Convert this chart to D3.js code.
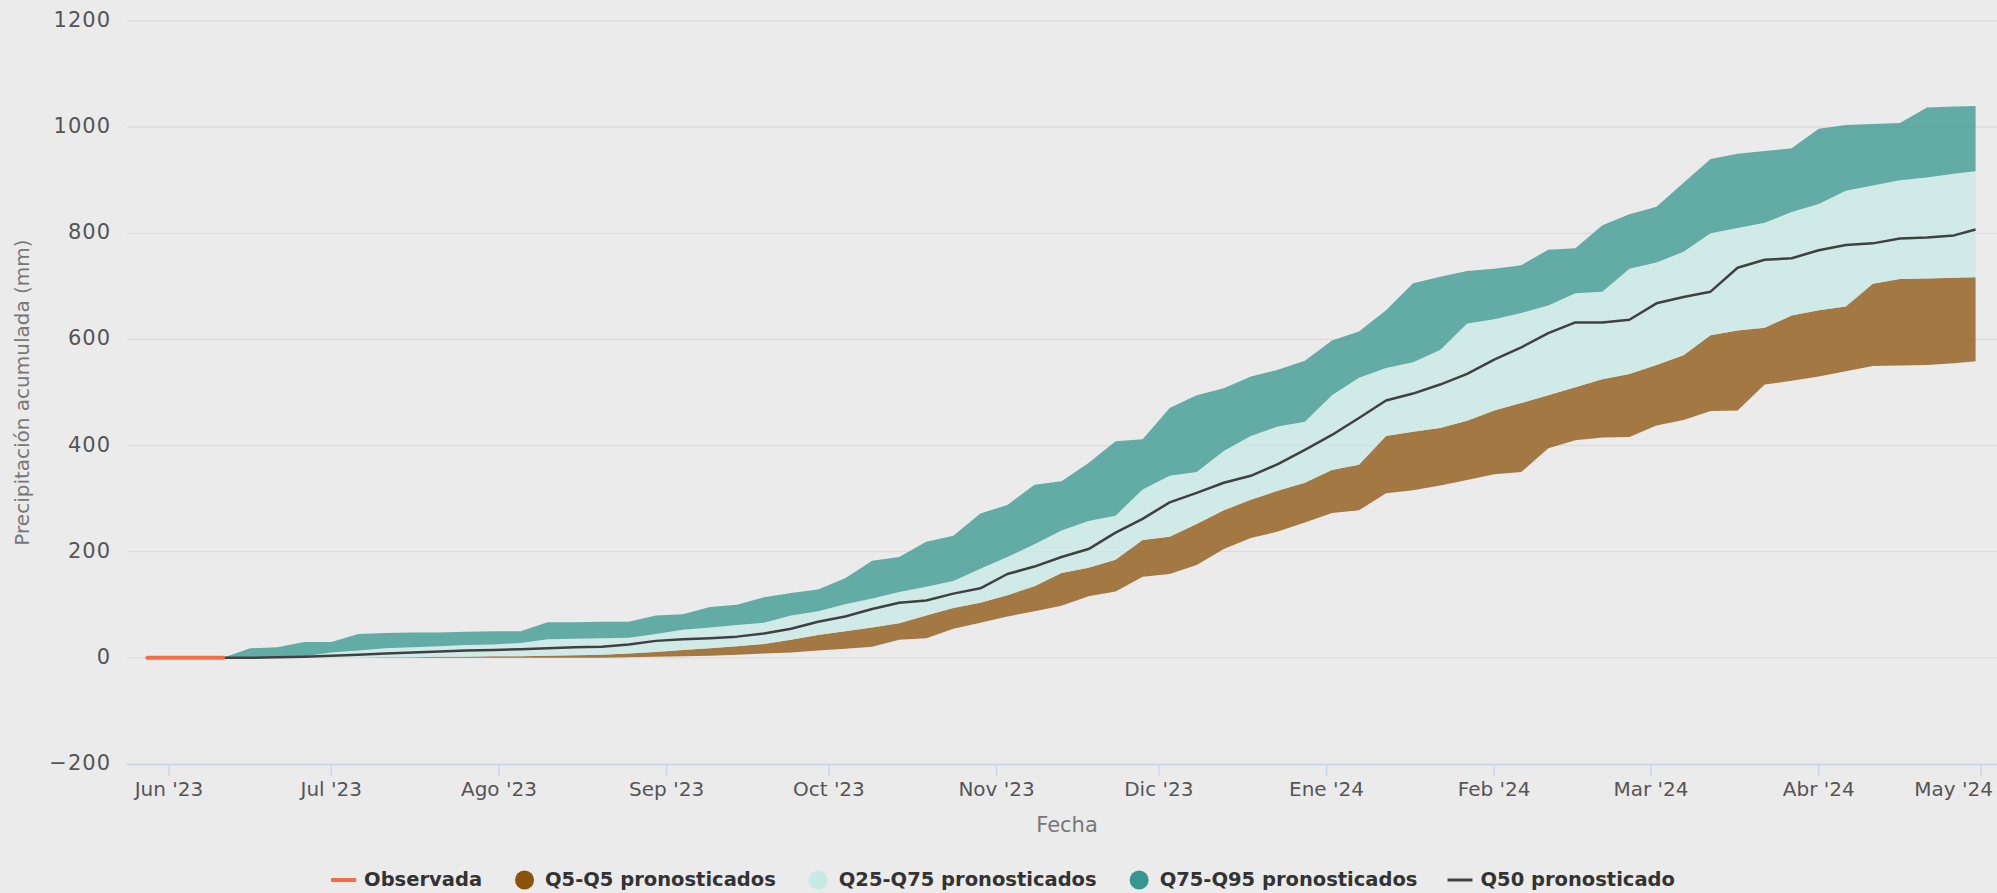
<!DOCTYPE html>
<html>
<head>
<meta charset="utf-8">
<script src="https://cdn.jsdelivr.net/npm/d3@7"></script>
<style>
  html, body { margin: 0; padding: 0; background: #ebebeb; }
  svg { display: block; font-family: "DejaVu Sans", sans-serif; }
</style>
</head>
<body>
<svg id="chart" width="1997" height="893"></svg>
<script>
// ---------------- DATA ----------------
const monthLabels = ["Ene","Feb","Mar","Abr","May","Jun","Jul","Ago","Sep","Oct","Nov","Dic"];
const yTicks = [-200, 0, 200, 400, 600, 800, 1000, 1200];

const obsDates = ["2023-05-28", "2023-06-11"];
const obsValues = [0, 0];

const dates = [
  "2023-06-11","2023-06-16","2023-06-21","2023-06-26",
  "2023-07-01","2023-07-06","2023-07-11","2023-07-16","2023-07-21","2023-07-26","2023-07-31",
  "2023-08-05","2023-08-10","2023-08-15","2023-08-20","2023-08-25","2023-08-30",
  "2023-09-04","2023-09-09","2023-09-14","2023-09-19","2023-09-24","2023-09-29",
  "2023-10-04","2023-10-09","2023-10-14","2023-10-19","2023-10-24","2023-10-29",
  "2023-11-03","2023-11-08","2023-11-13","2023-11-18","2023-11-23","2023-11-28",
  "2023-12-03","2023-12-08","2023-12-13","2023-12-18","2023-12-23","2023-12-28",
  "2024-01-02","2024-01-07","2024-01-12","2024-01-17","2024-01-22","2024-01-27",
  "2024-02-01","2024-02-06","2024-02-11","2024-02-16","2024-02-21","2024-02-26",
  "2024-03-02","2024-03-07","2024-03-12","2024-03-17","2024-03-22","2024-03-27",
  "2024-04-01","2024-04-06","2024-04-11","2024-04-16","2024-04-21","2024-04-26","2024-04-30"
];
const q5 = [0,0,0,0,0,0,0,0,0,0,0,0,0,0,0,1,2,3,4,6,8,10,14,17,21,34,37,55,66,78,88,98,116,125,153,158,175,205,226,238,255,273,278,310,316,325,335,346,350,395,410,415,416,438,448,465,466,515,522,530,540,550,551,552,555,559];
const q25 = [0,0,0,0,0,0,1,1,2,2,3,3,4,5,6,8,11,15,18,22,26,34,43,50,57,65,80,94,104,118,135,160,170,185,222,228,252,278,298,315,330,354,364,418,426,433,447,466,480,495,510,525,535,552,570,608,617,622,645,655,662,705,714,715,716,717];
const q50 = [0,0,1,2,4,6,8,10,12,14,15,16,18,20,21,25,32,35,37,40,46,55,68,78,92,104,108,121,131,158,172,190,205,236,262,293,311,330,343,365,392,420,452,485,498,515,535,562,585,612,632,632,637,668,680,690,735,750,753,768,778,781,790,792,796,807];
const q75 = [0,0,1,3,10,14,18,20,22,24,25,28,35,36,37,38,45,53,57,62,66,80,88,101,112,124,134,145,168,190,214,240,258,268,317,343,350,390,418,436,445,495,528,546,557,580,630,638,650,664,687,690,733,745,765,800,810,820,840,855,880,890,900,905,912,917];
const q95 = [0,18,20,30,30,45,47,48,48,49,50,50,67,67,68,68,80,82,96,100,114,122,129,150,183,190,219,230,272,288,326,333,367,408,412,471,495,508,530,543,560,598,615,655,706,718,729,733,740,769,772,815,836,850,895,940,950,955,960,997,1004,1006,1008,1037,1039,1040];

const legendItems = [
  {name: "Observada", type: "line", color: "#f46d43"},
  {name: "Q5-Q5 pronosticados", type: "circle", color: "#8c510a"},
  {name: "Q25-Q75 pronosticados", type: "circle", color: "#c7eae5"},
  {name: "Q75-Q95 pronosticados", type: "circle", color: "#35978f"},
  {name: "Q50 pronosticado", type: "line", color: "#404040"}
];

// ---------------- LAYOUT ----------------
const parse = d3.utcParse("%Y-%m-%d");
const svg = d3.select("#chart");
const W = 1997;
const plotLeft = 127, plotRight = 1997, plotTop = 21, plotBottom = 764;

const x = d3.scaleUtc()
  .domain([parse("2023-06-01"), parse("2024-05-01")])
  .range([169, 1981]);
const y = d3.scaleLinear().domain([-200, 1200]).range([plotBottom, plotTop]);

const rows = dates.map((d, i) => ({date: parse(d), q5: q5[i], q25: q25[i], q50: q50[i], q75: q75[i], q95: q95[i]}));
const obs = obsDates.map((d, i) => ({date: parse(d), v: obsValues[i]}));

// gridlines
svg.append("g").selectAll("line").data(yTicks.filter(t => t !== -200)).join("line")
  .attr("x1", plotLeft).attr("x2", plotRight)
  .attr("y1", d => y(d)).attr("y2", d => y(d))
  .attr("stroke", "#d9d9d9").attr("stroke-width", 1);

// y tick labels
svg.append("g").selectAll("text").data(yTicks).join("text")
  .attr("x", 111).attr("y", d => y(d))
  .attr("text-anchor", "end").attr("dominant-baseline", "middle")
  .attr("font-size", 21).attr("fill", "#555").attr("letter-spacing", 1)
  .text(d => d === -200 ? "\u2212200" : d);

// x axis line
svg.append("line").attr("x1", plotLeft).attr("x2", plotRight)
  .attr("y1", plotBottom + 0.5).attr("y2", plotBottom + 0.5)
  .attr("stroke", "#ccd6eb").attr("stroke-width", 2);

const monthTicks = x.ticks(d3.utcMonth.every(1));
svg.append("g").selectAll("line").data(monthTicks).join("line")
  .attr("x1", d => x(d)).attr("x2", d => x(d))
  .attr("y1", plotBottom).attr("y2", plotBottom + 12)
  .attr("stroke", "#ccd6eb").attr("stroke-width", 1.5);
svg.append("g").selectAll("text").data(monthTicks).join("text")
  .attr("x", d => x(d)).attr("y", 790)
  .attr("text-anchor", "middle").attr("dominant-baseline", "middle")
  .attr("font-size", 20).attr("fill", "#555")
  .text(d => monthLabels[d.getUTCMonth()] + " '" + String(d.getUTCFullYear()).slice(2))
  .each(function() {
    // keep labels inside the chart, as the original does
    const bb = this.getBBox();
    if (bb.x + bb.width > W - 4) {
      d3.select(this).attr("text-anchor", "end").attr("x", W - 4);
    }
  });

// axis titles
svg.append("text").attr("x", 1067).attr("y", 826)
  .attr("text-anchor", "middle").attr("dominant-baseline", "middle")
  .attr("font-size", 21).attr("fill", "#777").text("Fecha");
svg.append("text")
  .attr("transform", `translate(23, ${(plotTop + plotBottom) / 2}) rotate(-90)`)
  .attr("text-anchor", "middle").attr("dominant-baseline", "middle")
  .attr("font-size", 20).attr("fill", "#777").text("Precipitación acumulada (mm)");

// bands
const plot = svg.append("g");
const band = (lo, hi) => d3.area().x(d => x(d.date)).y0(d => y(d[lo])).y1(d => y(d[hi]));
plot.append("path").datum(rows).attr("d", band("q5", "q25")).attr("fill", "#8c510a").attr("fill-opacity", 0.75);
plot.append("path").datum(rows).attr("d", band("q25", "q75")).attr("fill", "#c7eae5").attr("fill-opacity", 0.75);
plot.append("path").datum(rows).attr("d", band("q75", "q95")).attr("fill", "#35978f").attr("fill-opacity", 0.75);

// median line
plot.append("path").datum(rows)
  .attr("d", d3.line().x(d => x(d.date)).y(d => y(d.q50)))
  .attr("fill", "none").attr("stroke", "#404040").attr("stroke-width", 2.5).attr("stroke-linejoin", "round");

// observed
plot.append("path").datum(obs)
  .attr("d", d3.line().x(d => x(d.date)).y(d => y(d.v)))
  .attr("fill", "none").attr("stroke", "#f46d43").attr("stroke-width", 4).attr("stroke-linecap", "round");

// legend
const lg = svg.append("g");
const symW = 25, textOff = 33, itemGap = 30, legendY = 880;
const items = legendItems.map(it => {
  const g = lg.append("g");
  const t = g.append("text").attr("x", textOff).attr("y", 0)
    .attr("dominant-baseline", "middle").attr("font-size", 19.5).attr("font-weight", "bold")
    .attr("fill", "#333").text(it.name);
  if (it.type === "line") {
    g.append("line").attr("x1", 0).attr("x2", symW).attr("y1", 0).attr("y2", 0)
      .attr("stroke", it.color).attr("stroke-width", it.name === "Observada" ? 4 : 3);
  } else {
    g.append("circle").attr("cx", symW / 2).attr("cy", 0).attr("r", 9.5).attr("fill", it.color);
  }
  return {g, w: textOff + t.node().getComputedTextLength()};
});
const totalW = d3.sum(items, d => d.w) + itemGap * (items.length - 1);
let cx = 1003 - totalW / 2;
items.forEach(it => { it.g.attr("transform", `translate(${cx},${legendY})`); cx += it.w + itemGap; });
</script>
</body>
</html>
